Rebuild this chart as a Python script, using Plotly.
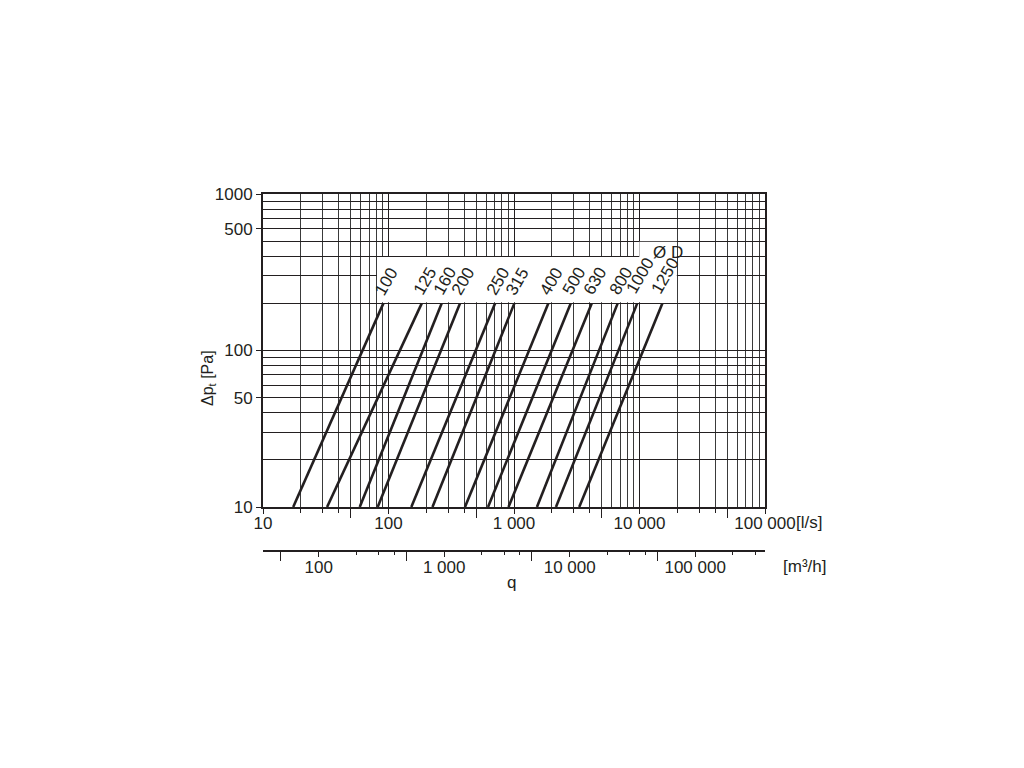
import numpy as np
import plotly.graph_objects as go

# ---------------- data ----------------
diameters = ["100", "125", "160", "200", "250", "315", "400", "500", "630", "800", "1000", "1250"]
q_at_10pa = [17.4, 32.4, 59, 82, 152, 224, 407, 621, 904, 1524, 2160, 3310]      # l/s at 10 Pa
q_at_200pa = [91, 184, 265, 371, 706, 1006, 1875, 2830, 4160, 6700, 9590, 15200]  # l/s at 200 Pa
dp_ends = [10, 200]                                                              # Pa

x_tickvals = [10, 100, 1000, 10000, 100000]
x_ticktext = ["10", "100", "1 000", "10 000", "100 000"]
m3h_tickvals = [100, 1000, 10000, 100000]
m3h_ticktext = ["100", "1 000", "10 000", "100 000"]
y_tickvals = [10, 50, 100, 600, 1000]
y_ticktext = ["10", "50", "100", "500", "1000"]

INK = "#231f20"
GRID = "#3a3a3a"
FONT = "Liberation Sans, Arial, Helvetica, sans-serif"

x_minor = [m * 10 ** d for d in range(1, 5) for m in range(2, 10)]
x_short = [m * 10 ** d for d in range(1, 5) for m in (2, 3, 4)]
x_long = [5 * 10 ** d for d in range(1, 5)]
y_minor = [m * 10 ** d for d in range(1, 3) for m in range(2, 10)]
m3h_short = [m * 10 ** d for d in range(2, 6) for m in (2, 3, 4)]
m3h_long = [5 * 10 ** d for d in range(1, 5)]
m3h_range = [np.log10(36), np.log10(360000)]

fig = go.Figure()

for d, q0, q1 in zip(diameters, q_at_10pa, q_at_200pa):
    fig.add_trace(go.Scatter(
        x=[q0, q1], y=dp_ends, mode="lines",
        line=dict(color=INK, width=2.6),
        hoverinfo="skip", showlegend=False, name=d,
    ))
    fig.add_annotation(
        x=np.log10(q1), y=np.log10(dp_ends[1]), xref="x", yref="y",
        text=d, showarrow=False, textangle=-60,
        xanchor="center", yanchor="middle",
        xshift=3, yshift=22 if len(d) == 3 else 28,
        font=dict(size=17, color=INK, family=FONT),
    )

# invisible helpers so that the tick-only overlay axes are drawn
for ax_id, vals in (("x2", x_long), ("x3", m3h_tickvals), ("x4", m3h_long)):
    fig.add_trace(go.Scatter(
        x=vals, y=[dp_ends[0]] * len(vals), xaxis=ax_id, yaxis="y",
        mode="markers", marker=dict(opacity=0, size=1),
        hoverinfo="skip", showlegend=False,
    ))

# white band behind the diameter labels (covers grid above the 200 Pa line only)
fig.add_shape(
    type="path", xref="paper", yref="paper", layer="above",
    path="M 0.2271,0.6969 L 0.8243,0.6969 L 0.8243,0.8661 L 0.7496,0.8661 "
         "L 0.7496,0.8235 L 0.2271,0.8235 Z",
    fillcolor="white", line=dict(width=0),
)

fig.update_layout(
    width=1008, height=752,
    margin=dict(l=255, r=251, t=186, b=209),
    paper_bgcolor="white", plot_bgcolor="white",
    font=dict(family=FONT, size=17, color=INK),
    showlegend=False,
    xaxis=dict(
        type="log", range=[1, 5], domain=[0, 1], anchor="y",
        tickvals=x_tickvals, ticktext=x_ticktext,
        ticks="outside", ticklen=5, tickwidth=1.2, tickcolor=INK,
        ticklabelstandoff=-5,
        showgrid=True, gridcolor=INK, gridwidth=1,
        minor=dict(tickvals=x_minor, showgrid=True, gridcolor=GRID, gridwidth=1, ticks=""),
        showline=True, linecolor=INK, linewidth=2, mirror=True,
        zeroline=False, tickfont=dict(size=17, color=INK),
    ),
    xaxis2=dict(
        type="log", range=[1, 5], overlaying="x", anchor="y", side="bottom",
        tickvals=x_long, ticks="outside", ticklen=10, tickwidth=1.2, tickcolor=INK,
        showticklabels=False, showgrid=False, showline=False, zeroline=False,
        minor=dict(tickvals=x_short, ticks="outside", ticklen=5, tickwidth=1.2,
                   tickcolor=INK, showgrid=False),
    ),
    xaxis3=dict(
        type="log", range=m3h_range, overlaying="x",
        anchor="free", position=0, side="bottom",
        tickvals=m3h_tickvals, ticktext=m3h_ticktext,
        ticks="outside", ticklen=5, tickwidth=1.2, tickcolor=INK,
        ticklabelstandoff=-4,
        showgrid=False, showline=True, linecolor=INK, linewidth=1.6, zeroline=False,
        tickfont=dict(size=17, color=INK),
    ),
    xaxis4=dict(
        type="log", range=m3h_range, overlaying="x",
        anchor="free", position=0, side="bottom",
        tickvals=m3h_long, ticks="outside", ticklen=9, tickwidth=1.2, tickcolor=INK,
        showticklabels=False, showgrid=False, showline=False, zeroline=False,
        minor=dict(tickvals=m3h_short, ticks="outside", ticklen=3, tickwidth=1.2,
                   tickcolor=INK, showgrid=False),
    ),
    yaxis=dict(
        type="log", range=[1, 3], domain=[44 / 357, 1], anchor="x",
        tickvals=y_tickvals, ticktext=y_ticktext,
        ticks="outside", ticklen=5, tickwidth=1.2, tickcolor=INK,
        showgrid=True, gridcolor=INK, gridwidth=1,
        minor=dict(tickvals=y_minor, showgrid=True, gridcolor=INK, gridwidth=1, ticks=""),
        showline=True, linecolor=INK, linewidth=1.8, mirror=True,
        zeroline=False, tickfont=dict(size=17, color=INK),
    ),
)

# axis titles / units
def label(x, y, text, size=17, angle=0):
    fig.add_annotation(x=x, y=y, xref="paper", yref="paper", text=text,
                       showarrow=False, textangle=angle,
                       xanchor="center", yanchor="middle",
                       font=dict(size=size, color=INK, family=FONT))

label(1.0876, 0.0812, "[l/s]")
label(1.0777, -0.0448, "[m³/h]")
label(0.496, -0.0896, "q")
label(-0.1076, 0.4846, "Δp<sub>t</sub> [Pa]", size=16, angle=-90)
label(0.8068, 0.8375, "Ø D")

fig.write_html("out.html")
